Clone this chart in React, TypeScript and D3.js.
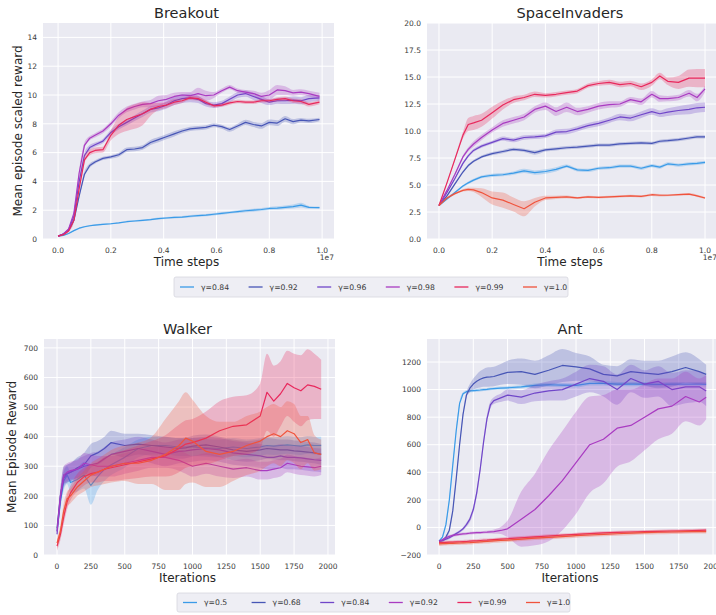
import * as d3 from 'd3';
import { useEffect, useRef } from 'react';

const COLORS = ['#3a9be8', '#4756b6', '#7046c9', '#a93bc1', '#e8285c', '#f0533c'];
const ATARI_LABELS = ['γ=0.84', 'γ=0.92', 'γ=0.96', 'γ=0.98', 'γ=0.99', 'γ=1.0'];
const MUJOCO_LABELS = ['γ=0.5', 'γ=0.68', 'γ=0.84', 'γ=0.92', 'γ=0.99', 'γ=1.0'];

// Breakout (x in 1e7 time steps)
const breakoutX = [0, 0.02, 0.04, 0.06, 0.08, 0.1, 0.12, 0.14, 0.17, 0.2, 0.23, 0.26, 0.29, 0.32, 0.35, 0.38, 0.41, 0.44, 0.47, 0.5, 0.53, 0.56, 0.59, 0.62, 0.65, 0.68, 0.71, 0.74, 0.77, 0.8, 0.83, 0.86, 0.89, 0.92, 0.95, 0.99];
const breakout084 = [0.2, 0.25, 0.38, 0.58, 0.75, 0.85, 0.92, 0.97, 1.02, 1.06, 1.12, 1.2, 1.25, 1.3, 1.35, 1.42, 1.46, 1.5, 1.52, 1.58, 1.62, 1.66, 1.72, 1.78, 1.84, 1.9, 1.96, 2.0, 2.05, 2.12, 2.15, 2.2, 2.25, 2.35, 2.2, 2.18];
const breakout084Sd = [0.03, 0.03, 0.04, 0.05, 0.05, 0.05, 0.05, 0.05, 0.05, 0.05, 0.05, 0.06, 0.06, 0.06, 0.06, 0.07, 0.07, 0.07, 0.07, 0.08, 0.08, 0.08, 0.08, 0.09, 0.09, 0.1, 0.1, 0.1, 0.1, 0.1, 0.12, 0.12, 0.14, 0.16, 0.1, 0.08];
const breakout092 = [0.2, 0.35, 0.6, 1.3, 3.0, 4.5, 5.1, 5.35, 5.6, 5.7, 5.85, 6.2, 6.25, 6.35, 6.7, 6.9, 7.1, 7.3, 7.5, 7.65, 7.7, 7.75, 7.9, 7.8, 7.6, 7.85, 8.1, 7.95, 7.85, 8.1, 8.05, 8.35, 8.15, 8.25, 8.2, 8.3];
const breakout092Sd = [0.03, 0.05, 0.08, 0.1, 0.15, 0.18, 0.15, 0.12, 0.12, 0.12, 0.14, 0.16, 0.16, 0.16, 0.18, 0.18, 0.18, 0.18, 0.16, 0.15, 0.15, 0.15, 0.14, 0.14, 0.15, 0.16, 0.18, 0.18, 0.2, 0.2, 0.2, 0.2, 0.18, 0.16, 0.15, 0.12];
const breakout096 = [0.2, 0.35, 0.65, 1.6, 4.0, 5.8, 6.35, 6.55, 6.8, 7.4, 7.8, 8.1, 8.4, 8.7, 9.0, 9.1, 9.3, 9.6, 9.75, 9.8, 9.7, 9.4, 9.3, 9.4, 9.7, 10.0, 10.1, 9.9, 9.7, 9.5, 9.6, 9.6, 9.65, 9.6, 9.75, 9.8];
const breakout096Sd = [0.03, 0.05, 0.08, 0.12, 0.2, 0.2, 0.18, 0.15, 0.15, 0.18, 0.2, 0.2, 0.2, 0.22, 0.22, 0.22, 0.25, 0.3, 0.3, 0.3, 0.25, 0.2, 0.2, 0.2, 0.2, 0.2, 0.22, 0.25, 0.25, 0.2, 0.2, 0.22, 0.25, 0.25, 0.25, 0.2];
const breakout098 = [0.2, 0.35, 0.7, 1.8, 4.6, 6.5, 7.0, 7.2, 7.5, 8.0, 8.6, 9.0, 9.2, 9.35, 9.4, 9.6, 9.7, 9.9, 10.0, 9.95, 10.1, 9.95, 10.0, 10.3, 10.55, 10.3, 10.2, 10.1, 9.9, 10.0, 10.35, 10.3, 10.15, 10.2, 10.1, 9.9];
const breakout098Sd = [0.03, 0.05, 0.08, 0.12, 0.2, 0.2, 0.15, 0.15, 0.15, 0.18, 0.2, 0.2, 0.2, 0.2, 0.25, 0.35, 0.3, 0.25, 0.2, 0.25, 0.4, 0.35, 0.2, 0.15, 0.15, 0.15, 0.15, 0.2, 0.25, 0.35, 0.35, 0.3, 0.2, 0.2, 0.2, 0.25];
const breakout099 = [0.2, 0.3, 0.55, 1.3, 3.5, 5.5, 6.0, 6.15, 6.2, 7.2, 7.9, 8.3, 8.5, 8.7, 9.0, 9.2, 9.3, 9.5, 9.6, 9.8, 9.75, 9.5, 9.25, 9.3, 9.45, 9.55, 9.5, 9.5, 9.6, 9.6, 9.7, 9.75, 9.6, 9.55, 9.35, 9.5];
const breakout099Sd = [0.03, 0.05, 0.08, 0.12, 0.2, 0.25, 0.2, 0.2, 0.2, 0.35, 0.6, 0.8, 0.85, 0.8, 0.45, 0.25, 0.2, 0.2, 0.15, 0.15, 0.15, 0.15, 0.12, 0.12, 0.12, 0.12, 0.12, 0.12, 0.12, 0.12, 0.15, 0.15, 0.15, 0.15, 0.15, 0.15];

// SpaceInvaders (x in 1e7 time steps)
const spaceX = [0, 0.03, 0.06, 0.09, 0.11, 0.13, 0.16, 0.2, 0.24, 0.28, 0.32, 0.36, 0.4, 0.44, 0.48, 0.52, 0.56, 0.6, 0.64, 0.68, 0.72, 0.76, 0.8, 0.83, 0.86, 0.9, 0.94, 0.97, 1.0];
const space084 = [3.1, 3.7, 4.3, 4.9, 5.2, 5.45, 5.75, 5.9, 5.95, 6.1, 6.3, 6.15, 6.25, 6.45, 6.75, 6.4, 6.35, 6.55, 6.6, 6.75, 6.75, 6.55, 6.8, 6.65, 6.95, 6.85, 6.95, 7.0, 7.1];
const space084Sd = [0.05, 0.1, 0.1, 0.1, 0.12, 0.12, 0.12, 0.15, 0.15, 0.15, 0.2, 0.2, 0.2, 0.2, 0.15, 0.15, 0.15, 0.15, 0.15, 0.15, 0.15, 0.15, 0.15, 0.15, 0.15, 0.15, 0.15, 0.15, 0.15];
const space092 = [3.1, 4.0, 5.1, 6.2, 6.8, 7.2, 7.6, 7.9, 8.1, 8.3, 8.2, 8.0, 8.25, 8.35, 8.45, 8.5, 8.6, 8.7, 8.7, 8.8, 8.85, 8.9, 8.85, 9.05, 9.1, 9.2, 9.35, 9.45, 9.45];
const space092Sd = [0.05, 0.1, 0.1, 0.12, 0.12, 0.12, 0.12, 0.15, 0.15, 0.15, 0.15, 0.2, 0.15, 0.15, 0.15, 0.15, 0.15, 0.15, 0.15, 0.15, 0.15, 0.15, 0.15, 0.15, 0.15, 0.15, 0.15, 0.15, 0.15];
const space096 = [3.1, 4.3, 5.6, 7.0, 7.7, 8.2, 8.6, 8.95, 9.3, 9.15, 9.4, 9.45, 9.55, 9.9, 9.95, 10.2, 10.5, 10.7, 11.0, 11.3, 11.2, 11.5, 11.8, 11.6, 11.75, 11.9, 12.0, 12.15, 12.2];
const space096Sd = [0.05, 0.1, 0.1, 0.12, 0.15, 0.15, 0.15, 0.15, 0.2, 0.2, 0.2, 0.2, 0.2, 0.25, 0.25, 0.25, 0.25, 0.25, 0.25, 0.3, 0.3, 0.3, 0.3, 0.3, 0.35, 0.4, 0.45, 0.45, 0.45];
const space098 = [3.1, 4.5, 6.0, 7.6, 8.3, 8.8, 9.4, 10.1, 10.7, 11.0, 11.3, 12.0, 12.3, 11.8, 12.2, 11.8, 12.0, 12.3, 12.45, 12.5, 12.9, 12.7, 13.4, 13.0, 13.0, 13.1, 13.5, 13.1, 13.9];
const space098Sd = [0.05, 0.1, 0.12, 0.15, 0.2, 0.25, 0.25, 0.25, 0.3, 0.3, 0.3, 0.3, 0.35, 0.4, 0.45, 0.35, 0.3, 0.3, 0.3, 0.25, 0.25, 0.3, 0.3, 0.3, 0.25, 0.25, 0.3, 0.35, 0.3];
const space099 = [3.1, 5.2, 7.4, 9.6, 10.6, 10.75, 11.0, 11.7, 12.4, 12.9, 13.1, 13.4, 13.3, 13.4, 13.55, 13.7, 14.2, 14.4, 14.5, 14.3, 14.4, 14.1, 14.5, 15.1, 14.6, 14.5, 14.9, 14.9, 14.9];
const space099Sd = [0.05, 0.1, 0.15, 0.3, 0.6, 0.65, 0.6, 0.55, 0.4, 0.3, 0.25, 0.25, 0.2, 0.2, 0.2, 0.2, 0.2, 0.2, 0.25, 0.25, 0.25, 0.3, 0.3, 0.3, 0.35, 0.6, 0.8, 0.85, 0.85];
const space100 = [3.1, 3.8, 4.2, 4.5, 4.6, 4.55, 4.3, 3.8, 3.6, 3.2, 2.8, 3.4, 3.8, 3.85, 3.9, 3.8, 3.9, 3.85, 3.9, 3.95, 4.0, 3.95, 4.1, 4.05, 4.05, 4.1, 4.15, 4.0, 3.8];
const space100Sd = [0.05, 0.1, 0.1, 0.1, 0.15, 0.2, 0.4, 0.6, 0.7, 0.65, 0.7, 0.4, 0.2, 0.15, 0.12, 0.1, 0.1, 0.1, 0.1, 0.1, 0.1, 0.1, 0.12, 0.12, 0.1, 0.1, 0.1, 0.1, 0.1];

// Walker (iterations)
const walkerX = [0, 25, 50, 75, 100, 150, 200, 250, 300, 350, 400, 500, 600, 700, 800, 900, 950, 1000, 1100, 1200, 1300, 1400, 1500, 1550, 1600, 1650, 1700, 1750, 1800, 1850, 1900, 1950];
const walker05 = [80, 180, 250, 270, 245, 255, 270, 235, 265, 290, 305, 330, 360, 370, 370, 365, 365, 365, 362, 360, 365, 360, 365, 370, 368, 370, 372, 370, 368, 372, 370, 370];
const walker05Sd = [15, 25, 30, 30, 35, 40, 45, 65, 45, 40, 35, 35, 30, 30, 30, 30, 30, 30, 30, 30, 30, 30, 30, 30, 30, 30, 30, 30, 30, 30, 30, 30];
const walker068 = [90, 200, 270, 275, 280, 295, 305, 335, 345, 360, 380, 370, 375, 370, 365, 360, 362, 368, 372, 365, 355, 350, 355, 360, 358, 355, 355, 352, 350, 348, 345, 340];
const walker068Sd = [15, 25, 30, 30, 30, 35, 40, 40, 40, 40, 40, 40, 35, 35, 35, 35, 35, 35, 35, 35, 35, 35, 35, 35, 35, 35, 35, 35, 35, 35, 35, 35];
const walker084 = [70, 190, 260, 275, 280, 290, 300, 305, 310, 325, 340, 350, 360, 350, 340, 350, 352, 355, 360, 355, 345, 340, 335, 330, 330, 335, 330, 330, 328, 325, 322, 320];
const walker084Sd = [15, 25, 30, 30, 30, 35, 35, 40, 40, 40, 40, 40, 40, 40, 40, 40, 40, 40, 40, 40, 40, 40, 40, 40, 40, 40, 40, 40, 40, 40, 40, 40];
const walker092 = [80, 200, 270, 280, 285, 290, 310, 305, 300, 300, 300, 310, 320, 330, 330, 320, 310, 300, 310, 300, 290, 295, 285, 285, 290, 295, 310, 305, 300, 298, 295, 300];
const walker092Sd = [15, 25, 30, 30, 30, 30, 35, 35, 35, 35, 35, 35, 35, 35, 35, 35, 35, 35, 35, 35, 30, 30, 30, 30, 30, 30, 30, 30, 30, 30, 30, 30];
const walker099 = [30, 70, 130, 180, 210, 245, 265, 275, 280, 290, 295, 305, 315, 325, 335, 360, 375, 380, 395, 420, 435, 440, 470, 550, 520, 545, 580, 565, 555, 575, 570, 560];
const walker099Sd = [15, 20, 25, 25, 25, 30, 30, 30, 35, 40, 45, 50, 55, 60, 70, 80, 80, 80, 90, 100, 100, 100, 110, 130, 120, 110, 110, 115, 120, 120, 110, 100];
const walker100 = [40, 80, 150, 190, 200, 230, 250, 270, 280, 290, 300, 310, 310, 320, 340, 370, 395, 385, 350, 340, 350, 370, 385, 400, 410, 400, 420, 410, 380, 390, 345, 340];
const walker100Sd = [15, 20, 25, 25, 25, 30, 35, 40, 45, 50, 55, 60, 70, 80, 120, 150, 155, 140, 120, 110, 100, 100, 100, 100, 100, 100, 100, 100, 90, 80, 60, 50];

// Ant (iterations)
const antX = [0, 25, 50, 75, 100, 125, 150, 175, 200, 225, 250, 275, 300, 325, 350, 375, 400, 450, 500, 600, 700, 800, 900, 1000, 1100, 1200, 1300, 1400, 1500, 1600, 1700, 1800, 1900, 1950];
const ant05 = [-100, -70, 20, 200, 450, 700, 900, 970, 985, 990, 993, 995, 997, 1000, 1002, 1005, 1007, 1010, 1013, 1020, 1030, 1035, 1032, 1030, 1045, 1045, 1040, 1040, 1040, 1038, 1040, 1040, 1040, 1038];
const ant05Sd = [8, 10, 15, 20, 20, 20, 15, 10, 10, 10, 10, 10, 10, 10, 10, 10, 10, 12, 12, 12, 15, 15, 15, 15, 15, 15, 15, 15, 15, 15, 15, 15, 15, 15];
const ant068 = [-100, -95, -70, -20, 120, 350, 600, 820, 960, 1010, 1040, 1060, 1075, 1085, 1090, 1092, 1095, 1110, 1125, 1130, 1110, 1140, 1175, 1165, 1150, 1110, 1100, 1130, 1120, 1110, 1130, 1160, 1130, 1110];
const ant068Sd = [8, 10, 12, 15, 20, 20, 20, 20, 20, 30, 40, 50, 60, 65, 70, 70, 70, 75, 85, 95, 100, 110, 120, 100, 90, 70, 70, 90, 90, 100, 110, 110, 90, 70];
const ant084 = [-100, -95, -85, -75, -60, -45, -30, -10, 20, 60, 130, 250, 420, 620, 790, 890, 920, 940, 960, 945, 975, 990, 1000, 1040, 1080, 1060, 1000, 1080, 1040, 1060, 1000, 1020, 1020, 990];
const ant084Sd = [8, 10, 10, 10, 10, 10, 10, 12, 15, 20, 25, 30, 30, 30, 30, 25, 25, 30, 40, 50, 60, 70, 80, 90, 100, 110, 110, 100, 100, 110, 120, 120, 110, 110];
const ant092 = [-100, -90, -75, -65, -58, -54, -50, -47, -45, -42, -40, -38, -37, -35, -34, -32, -30, -22, -10, 60, 130, 230, 340, 470, 600, 640, 720, 740, 800, 860, 880, 950, 910, 945];
const ant092Sd = [8, 10, 10, 10, 10, 10, 10, 10, 10, 10, 10, 10, 10, 10, 10, 12, 15, 25, 60, 200, 260, 330, 360, 370, 350, 320, 280, 260, 240, 220, 200, 180, 170, 160];
const ant099 = [-110, -110, -108, -107, -106, -105, -104, -103, -102, -100, -98, -97, -95, -93, -92, -90, -88, -85, -82, -75, -68, -62, -56, -50, -45, -40, -36, -33, -30, -28, -26, -24, -22, -20];
const ant099Sd = [12, 12, 12, 12, 12, 12, 12, 12, 12, 12, 12, 12, 12, 12, 12, 12, 12, 12, 12, 12, 12, 12, 12, 12, 12, 12, 12, 12, 12, 12, 12, 12, 12, 12];
const ant100 = [-120, -118, -117, -116, -115, -114, -113, -112, -111, -110, -108, -107, -105, -103, -102, -100, -98, -95, -92, -85, -78, -72, -66, -60, -55, -50, -46, -42, -38, -35, -33, -31, -30, -30];
const ant100Sd = [14, 14, 14, 14, 14, 14, 14, 14, 14, 14, 14, 14, 14, 14, 14, 14, 14, 14, 14, 14, 14, 14, 14, 14, 14, 14, 14, 14, 14, 14, 14, 14, 14, 14];

const atariXTicks = [0, 0.2, 0.4, 0.6, 0.8, 1.0];
const breakoutYTicks = [0, 2, 4, 6, 8, 10, 12, 14];
const spaceYTicks = [0, 2.5, 5, 7.5, 10, 12.5, 15, 17.5, 20];
const mujocoXTicks = [0, 250, 500, 750, 1000, 1250, 1500, 1750, 2000];
const walkerYTicks = [0, 100, 200, 300, 400, 500, 600, 700];
const antYTicks = [-200, 0, 200, 400, 600, 800, 1000, 1200];

interface Series {
  c: number;
  v: number[];
  sd: number[];
}

interface Panel {
  id: string;
  title: string;
  xLabel: string;
  yLabel?: string;
  offsetText?: string;
  left: number;
  right: number;
  top: number;
  bottom: number;
  xDomain: [number, number];
  yDomain: [number, number];
  xTicks: number[];
  yTicks: number[];
  xFmt: (n: number) => string;
  yFmt: (n: number) => string;
  xs: number[];
  series: Series[];
  yLabelX?: number;
}

const FONT = 'DejaVu Sans, sans-serif';
const TEXT = '#262626';

const panels: Panel[] = [
  {
    id: 'breakout', title: 'Breakout', xLabel: 'Time steps', yLabel: 'Mean episode scaled reward', offsetText: '1e7',
    left: 43, right: 334, top: 23, bottom: 239, xDomain: [-0.057, 1.045], yDomain: [0, 15],
    xTicks: atariXTicks, yTicks: breakoutYTicks, xFmt: d3.format('.1f'), yFmt: d3.format('d'), xs: breakoutX, yLabelX: 21.5,
    series: [
      { c: 0, v: breakout084, sd: breakout084Sd },
      { c: 1, v: breakout092, sd: breakout092Sd },
      { c: 2, v: breakout096, sd: breakout096Sd },
      { c: 3, v: breakout098, sd: breakout098Sd },
      { c: 4, v: breakout099, sd: breakout099Sd },
    ],
  },
  {
    id: 'space', title: 'SpaceInvaders', xLabel: 'Time steps', offsetText: '1e7',
    left: 427, right: 717, top: 23, bottom: 239, xDomain: [-0.045, 1.045], yDomain: [0, 20],
    xTicks: atariXTicks, yTicks: spaceYTicks, xFmt: d3.format('.1f'), yFmt: d3.format('.1f'), xs: spaceX,
    series: [
      { c: 0, v: space084, sd: space084Sd },
      { c: 1, v: space092, sd: space092Sd },
      { c: 2, v: space096, sd: space096Sd },
      { c: 3, v: space098, sd: space098Sd },
      { c: 4, v: space099, sd: space099Sd },
      { c: 5, v: space100, sd: space100Sd },
    ],
  },
  {
    id: 'walker', title: 'Walker', xLabel: 'Iterations', yLabel: 'Mean Episode Reward',
    left: 44, right: 335, top: 339, bottom: 555, xDomain: [-96, 2052], yDomain: [0, 730],
    xTicks: mujocoXTicks, yTicks: walkerYTicks, xFmt: d3.format('d'), yFmt: d3.format('d'), xs: walkerX, yLabelX: 16,
    series: [
      { c: 0, v: walker05, sd: walker05Sd },
      { c: 1, v: walker068, sd: walker068Sd },
      { c: 2, v: walker084, sd: walker084Sd },
      { c: 3, v: walker092, sd: walker092Sd },
      { c: 4, v: walker099, sd: walker099Sd },
      { c: 5, v: walker100, sd: walker100Sd },
    ],
  },
  {
    id: 'ant', title: 'Ant', xLabel: 'Iterations',
    left: 427, right: 717, top: 339, bottom: 555, xDomain: [-88, 2029], yDomain: [-200, 1367],
    xTicks: mujocoXTicks, yTicks: antYTicks, xFmt: d3.format('d'), yFmt: d3.format('d'), xs: antX,
    series: [
      { c: 0, v: ant05, sd: ant05Sd },
      { c: 1, v: ant068, sd: ant068Sd },
      { c: 2, v: ant084, sd: ant084Sd },
      { c: 3, v: ant092, sd: ant092Sd },
      { c: 4, v: ant099, sd: ant099Sd },
      { c: 5, v: ant100, sd: ant100Sd },
    ],
  },
];

type Pt = { x: number; v: number; sd: number };

const drawPanel = (svg: d3.Selection<SVGSVGElement, unknown, null, undefined>, p: Panel) => {
  const x = d3.scaleLinear().domain(p.xDomain).range([p.left, p.right]);
  const y = d3.scaleLinear().domain(p.yDomain).range([p.bottom, p.top]);
  const g = svg.append('g');

  g.append('defs')
    .append('clipPath')
    .attr('id', `clip-${p.id}`)
    .append('rect')
    .attr('x', p.left)
    .attr('y', p.top)
    .attr('width', p.right - p.left)
    .attr('height', p.bottom - p.top);

  g.append('rect')
    .attr('x', p.left)
    .attr('y', p.top)
    .attr('width', p.right - p.left)
    .attr('height', p.bottom - p.top)
    .attr('fill', '#eaeaf2');

  const grid = g.append('g').attr('stroke', '#ffffff').attr('stroke-width', 1);
  grid.selectAll('.gx')
    .data(p.xTicks)
    .join('line')
    .attr('x1', (d) => x(d))
    .attr('x2', (d) => x(d))
    .attr('y1', p.top)
    .attr('y2', p.bottom);
  grid.selectAll('.gy')
    .data(p.yTicks)
    .join('line')
    .attr('x1', p.left)
    .attr('x2', p.right)
    .attr('y1', (d) => y(d))
    .attr('y2', (d) => y(d));

  const plot = g.append('g').attr('clip-path', `url(#clip-${p.id})`);
  const area = d3.area<Pt>()
    .x((d) => x(d.x))
    .y0((d) => y(d.v - d.sd))
    .y1((d) => y(d.v + d.sd))
    .curve(d3.curveMonotoneX);
  const line = d3.line<Pt>()
    .x((d) => x(d.x))
    .y((d) => y(d.v))
    .curve(d3.curveLinear);

  p.series.forEach((s) => {
    const pts: Pt[] = p.xs.map((xv, i) => ({ x: xv, v: s.v[i], sd: s.sd[i] }));
    plot.append('path')
      .datum(pts)
      .attr('fill', COLORS[s.c])
      .attr('fill-opacity', 0.28)
      .attr('d', area);
    plot.append('path')
      .datum(pts)
      .attr('fill', 'none')
      .attr('stroke', COLORS[s.c])
      .attr('stroke-width', 1.2)
      .attr('stroke-linejoin', 'round')
      .attr('d', line);
  });

  const labels = g.append('g').attr('font-family', FONT).attr('fill', '#3a3a3a').attr('font-size', 7.5);
  labels.selectAll('.tx')
    .data(p.xTicks)
    .join('text')
    .attr('x', (d) => x(d))
    .attr('y', p.bottom + 13.5)
    .attr('text-anchor', 'middle')
    .text((d) => p.xFmt(d));
  labels.selectAll('.ty')
    .data(p.yTicks)
    .join('text')
    .attr('x', p.left - 6)
    .attr('y', (d) => y(d) + 2.7)
    .attr('text-anchor', 'end')
    .text((d) => p.yFmt(d));
  if (p.offsetText) {
    labels.append('text')
      .attr('x', p.right)
      .attr('y', p.bottom + 21)
      .attr('text-anchor', 'end')
      .text(p.offsetText);
  }

  const cx = (p.left + p.right) / 2;
  g.append('text')
    .attr('x', cx - 2)
    .attr('y', p.top - 5)
    .attr('text-anchor', 'middle')
    .attr('font-family', FONT)
    .attr('font-size', 14.5)
    .attr('fill', TEXT)
    .text(p.title);
  g.append('text')
    .attr('x', cx - 2)
    .attr('y', p.bottom + 27)
    .attr('text-anchor', 'middle')
    .attr('font-family', FONT)
    .attr('font-size', 12)
    .attr('fill', TEXT)
    .text(p.xLabel);
  if (p.yLabel) {
    const ly = (p.top + p.bottom) / 2;
    g.append('text')
      .attr('transform', `translate(${p.yLabelX},${ly}) rotate(-90)`)
      .attr('text-anchor', 'middle')
      .attr('font-family', FONT)
      .attr('font-size', 12)
      .attr('fill', TEXT)
      .text(p.yLabel);
  }
};

const drawLegend = (
  svg: d3.Selection<SVGSVGElement, unknown, null, undefined>,
  labels: string[],
  left: number,
  top: number,
  width: number,
  height: number,
) => {
  const g = svg.append('g');
  g.append('rect')
    .attr('x', left)
    .attr('y', top)
    .attr('width', width)
    .attr('height', height)
    .attr('rx', 2)
    .attr('fill', '#eeeef4')
    .attr('stroke', '#d6d6de')
    .attr('stroke-width', 0.8);
  const step = 68.6;
  const midY = top + height / 2;
  labels.forEach((lab, i) => {
    const x0 = left + 6 + i * step;
    g.append('line')
      .attr('x1', x0)
      .attr('x2', x0 + 14)
      .attr('y1', midY)
      .attr('y2', midY)
      .attr('stroke', COLORS[i])
      .attr('stroke-width', 1.3);
    g.append('text')
      .attr('x', x0 + 21)
      .attr('y', midY + 2.8)
      .attr('font-family', FONT)
      .attr('font-size', 7.7)
      .attr('fill', '#3a3a3a')
      .text(lab);
  });
};

export default function App() {
  const ref = useRef<SVGSVGElement>(null);

  useEffect(() => {
    if (!ref.current) return;
    const svg = d3.select(ref.current);
    svg.selectAll('*').remove();
    panels.forEach((p) => drawPanel(svg, p));
    drawLegend(svg, ATARI_LABELS, 174, 277, 394, 20);
    drawLegend(svg, MUJOCO_LABELS, 177, 593, 393, 19);
  }, []);

  return (
    <div style={{ position: 'absolute', left: 0, top: 0, background: '#ffffff' }}>
      <svg ref={ref} width={716} height={615} style={{ display: 'block' }} />
    </div>
  );
}
